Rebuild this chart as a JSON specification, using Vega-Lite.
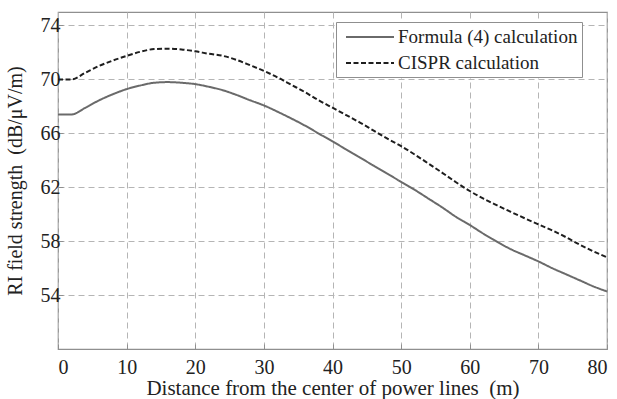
{
  "$schema": "https://vega.github.io/schema/vega-lite/v6.json",
  "autosize": {"type": "none"},
  "padding": {"left": 58, "top": 12, "right": 10, "bottom": 50},
  "width": 549,
  "height": 337,
  "background": "white",
  "config": {
    "font": "Liberation Serif",
    "view": {"stroke": "#8f8f8f", "strokeWidth": 1.2},
    "axis": {
      "labelFont": "Liberation Serif",
      "titleFont": "Liberation Serif",
      "labelFontSize": 20,
      "titleFontSize": 20,
      "labelColor": "#222",
      "titleColor": "#222",
      "titleFontWeight": "normal",
      "gridColor": "#b5b5b5",
      "gridDash": [6, 4],
      "gridWidth": 1,
      "domain": false,
      "tickColor": "#8f8f8f",
      "tickSize": -5
    }
  },
  "data": {
    "values": [
      {"d": 0, "v": 67.39, "s": "Formula (4) calculation"},
      {"d": 2, "v": 67.4, "s": "Formula (4) calculation"},
      {"d": 4, "v": 67.9, "s": "Formula (4) calculation"},
      {"d": 6, "v": 68.45, "s": "Formula (4) calculation"},
      {"d": 8, "v": 68.9, "s": "Formula (4) calculation"},
      {"d": 10, "v": 69.28, "s": "Formula (4) calculation"},
      {"d": 12, "v": 69.55, "s": "Formula (4) calculation"},
      {"d": 14, "v": 69.75, "s": "Formula (4) calculation"},
      {"d": 16, "v": 69.8, "s": "Formula (4) calculation"},
      {"d": 18, "v": 69.75, "s": "Formula (4) calculation"},
      {"d": 20, "v": 69.65, "s": "Formula (4) calculation"},
      {"d": 22, "v": 69.45, "s": "Formula (4) calculation"},
      {"d": 24, "v": 69.2, "s": "Formula (4) calculation"},
      {"d": 26, "v": 68.85, "s": "Formula (4) calculation"},
      {"d": 28, "v": 68.45, "s": "Formula (4) calculation"},
      {"d": 30, "v": 68.07, "s": "Formula (4) calculation"},
      {"d": 32, "v": 67.6, "s": "Formula (4) calculation"},
      {"d": 34, "v": 67.1, "s": "Formula (4) calculation"},
      {"d": 36, "v": 66.57, "s": "Formula (4) calculation"},
      {"d": 38, "v": 65.98, "s": "Formula (4) calculation"},
      {"d": 40, "v": 65.4, "s": "Formula (4) calculation"},
      {"d": 42, "v": 64.8, "s": "Formula (4) calculation"},
      {"d": 44, "v": 64.2, "s": "Formula (4) calculation"},
      {"d": 46, "v": 63.6, "s": "Formula (4) calculation"},
      {"d": 48, "v": 63.0, "s": "Formula (4) calculation"},
      {"d": 50, "v": 62.4, "s": "Formula (4) calculation"},
      {"d": 52, "v": 61.8, "s": "Formula (4) calculation"},
      {"d": 54, "v": 61.15, "s": "Formula (4) calculation"},
      {"d": 56, "v": 60.5, "s": "Formula (4) calculation"},
      {"d": 58, "v": 59.8, "s": "Formula (4) calculation"},
      {"d": 60, "v": 59.2, "s": "Formula (4) calculation"},
      {"d": 62, "v": 58.55, "s": "Formula (4) calculation"},
      {"d": 64, "v": 57.95, "s": "Formula (4) calculation"},
      {"d": 66, "v": 57.4, "s": "Formula (4) calculation"},
      {"d": 68, "v": 56.95, "s": "Formula (4) calculation"},
      {"d": 70, "v": 56.5, "s": "Formula (4) calculation"},
      {"d": 72, "v": 56.0, "s": "Formula (4) calculation"},
      {"d": 74, "v": 55.55, "s": "Formula (4) calculation"},
      {"d": 76, "v": 55.1, "s": "Formula (4) calculation"},
      {"d": 78, "v": 54.65, "s": "Formula (4) calculation"},
      {"d": 80, "v": 54.27, "s": "Formula (4) calculation"},
      {"d": 0, "v": 70.0, "s": "CISPR calculation"},
      {"d": 2, "v": 70.0, "s": "CISPR calculation"},
      {"d": 4, "v": 70.5, "s": "CISPR calculation"},
      {"d": 6, "v": 71.0, "s": "CISPR calculation"},
      {"d": 8, "v": 71.4, "s": "CISPR calculation"},
      {"d": 10, "v": 71.74, "s": "CISPR calculation"},
      {"d": 12, "v": 72.05, "s": "CISPR calculation"},
      {"d": 14, "v": 72.25, "s": "CISPR calculation"},
      {"d": 16, "v": 72.28, "s": "CISPR calculation"},
      {"d": 18, "v": 72.22, "s": "CISPR calculation"},
      {"d": 20, "v": 72.08, "s": "CISPR calculation"},
      {"d": 22, "v": 71.9, "s": "CISPR calculation"},
      {"d": 24, "v": 71.75, "s": "CISPR calculation"},
      {"d": 26, "v": 71.45, "s": "CISPR calculation"},
      {"d": 28, "v": 71.05, "s": "CISPR calculation"},
      {"d": 30, "v": 70.63, "s": "CISPR calculation"},
      {"d": 32, "v": 70.15, "s": "CISPR calculation"},
      {"d": 34, "v": 69.6, "s": "CISPR calculation"},
      {"d": 36, "v": 69.05, "s": "CISPR calculation"},
      {"d": 38, "v": 68.45, "s": "CISPR calculation"},
      {"d": 40, "v": 67.9, "s": "CISPR calculation"},
      {"d": 42, "v": 67.35, "s": "CISPR calculation"},
      {"d": 44, "v": 66.8, "s": "CISPR calculation"},
      {"d": 46, "v": 66.2, "s": "CISPR calculation"},
      {"d": 48, "v": 65.6, "s": "CISPR calculation"},
      {"d": 50, "v": 65.05, "s": "CISPR calculation"},
      {"d": 52, "v": 64.42, "s": "CISPR calculation"},
      {"d": 54, "v": 63.75, "s": "CISPR calculation"},
      {"d": 56, "v": 63.07, "s": "CISPR calculation"},
      {"d": 58, "v": 62.37, "s": "CISPR calculation"},
      {"d": 60, "v": 61.72, "s": "CISPR calculation"},
      {"d": 62, "v": 61.15, "s": "CISPR calculation"},
      {"d": 64, "v": 60.65, "s": "CISPR calculation"},
      {"d": 66, "v": 60.17, "s": "CISPR calculation"},
      {"d": 68, "v": 59.7, "s": "CISPR calculation"},
      {"d": 70, "v": 59.25, "s": "CISPR calculation"},
      {"d": 72, "v": 58.8, "s": "CISPR calculation"},
      {"d": 74, "v": 58.3, "s": "CISPR calculation"},
      {"d": 76, "v": 57.75, "s": "CISPR calculation"},
      {"d": 78, "v": 57.25, "s": "CISPR calculation"},
      {"d": 80, "v": 56.8, "s": "CISPR calculation"}
    ]
  },
  "mark": {"type": "line", "strokeWidth": 2, "interpolate": "monotone"},
  "encoding": {
    "x": {
      "field": "d", "type": "quantitative",
      "scale": {"domain": [0, 80], "nice": false},
      "axis": {"values": [0, 10, 20, 30, 40, 50, 60, 70, 80], "labelPadding": 13, "titlePadding": 0,
               "titleFontSize": 21,
               "title": "Distance from the center of power lines\u00a0\u00a0(m)"}
    },
    "y": {
      "field": "v", "type": "quantitative",
      "scale": {"domain": [50, 75], "nice": false, "zero": false},
      "axis": {"values": [54, 58, 62, 66, 70, 74], "labelPadding": 3, "titlePadding": 15,
               "title": "RI field strength\u00a0\u00a0(dB/μV/m)"}
    },
    "color": {
      "field": "s", "type": "nominal",
      "scale": {"domain": ["Formula (4) calculation", "CISPR calculation"], "range": ["#6a6a6a", "#1e1e1e"]},
      "legend": {
        "title": null, "orient": "none", "legendX": 278, "legendY": 10,
        "strokeColor": "#8f8f8f", "fillColor": "white", "padding": 4,
        "symbolType": "M-2.4,0H2.4", "symbolSize": 400, "symbolStrokeWidth": 2, "symbolOffset": 19,
        "rowPadding": 5, "labelOffset": 17, "labelLimit": 0,
        "labelFont": "Liberation Serif", "labelFontSize": 19, "labelColor": "#222"
      }
    },
    "strokeDash": {
      "field": "s", "type": "nominal",
      "scale": {"domain": ["Formula (4) calculation", "CISPR calculation"], "range": [[1, 0], [5, 2.5]]},
      "legend": {
        "title": null, "orient": "none", "legendX": 278, "legendY": 10,
        "strokeColor": "#8f8f8f", "fillColor": "white", "padding": 4,
        "symbolType": "M-2.4,0H2.4", "symbolSize": 400, "symbolStrokeWidth": 2, "symbolOffset": 19,
        "rowPadding": 5, "labelOffset": 17, "labelLimit": 0,
        "labelFont": "Liberation Serif", "labelFontSize": 19, "labelColor": "#222"
      }
    }
  }
}
